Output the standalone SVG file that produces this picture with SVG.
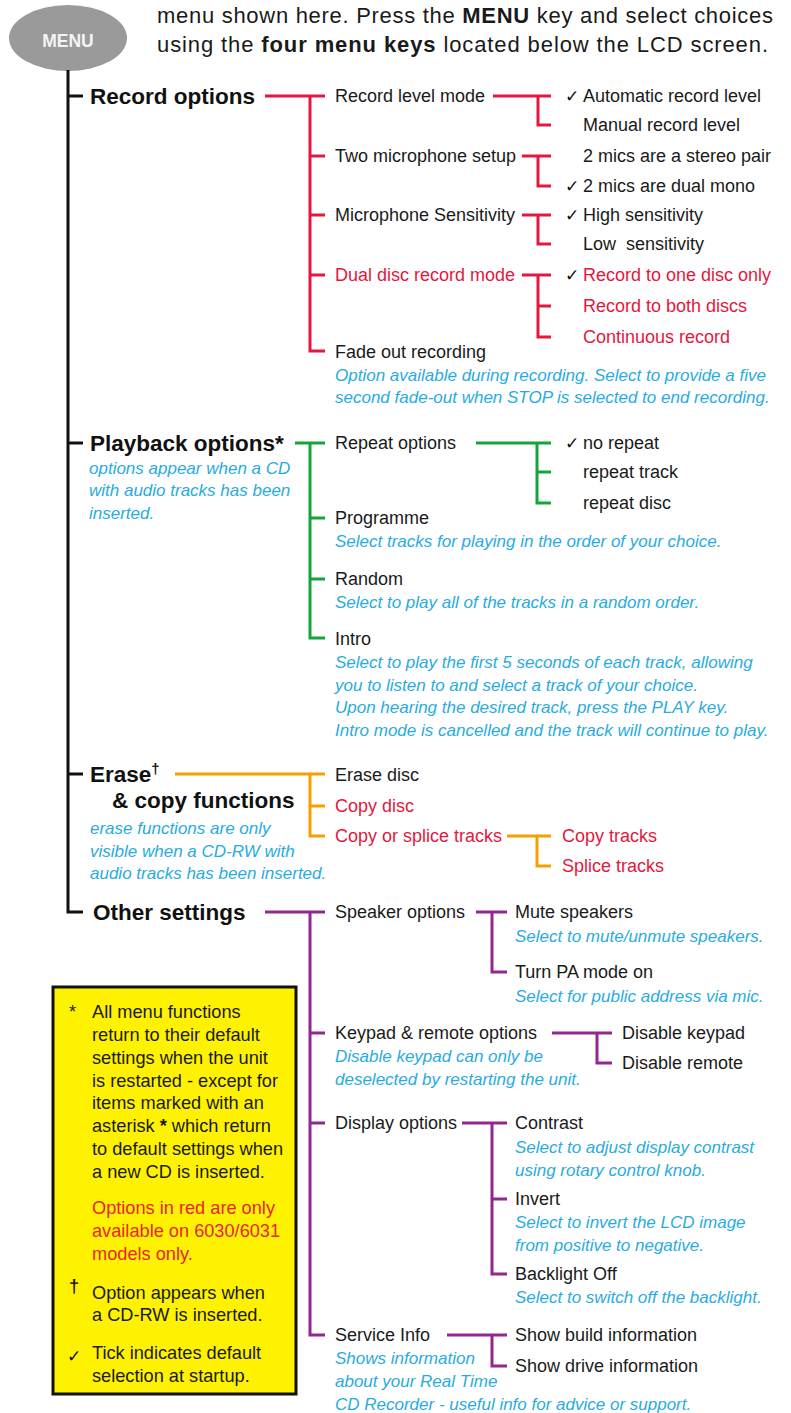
<svg xmlns="http://www.w3.org/2000/svg" width="791" height="1413" viewBox="0 0 791 1413">
<style>
text{font-family:"Liberation Sans",Arial,sans-serif;fill:#1a1a1a}
.t{font-size:18px}
.r{fill:#e4173e}
.i{font-size:17px;font-style:italic;fill:#29abe2}
.h{font-size:22.5px;font-weight:bold;fill:#111}
.ck{font-family:"DejaVu Sans",sans-serif;font-size:17px;fill:#111}
.hdr{font-size:22px}
.bx{font-size:18.2px}
.c{fill:none;stroke-width:3;stroke-linecap:butt;stroke-linejoin:miter}
.k{stroke:#111}
.cr{stroke:#e4173e}
.cg{stroke:#13a538}
.co{stroke:#f4a000}
.cp{stroke:#93278f}
</style>
<rect width="791" height="1413" fill="#fff"/>

<g id="header">
<text class="hdr" x="157" y="23" textLength="616">menu shown here. Press the <tspan font-weight="bold">MENU</tspan> key and select choices</text>
<text class="hdr" x="157" y="52" textLength="611">using the <tspan font-weight="bold">four menu keys</tspan> located below the LCD screen.</text>
</g>

<g id="menu">
<ellipse cx="68" cy="38" rx="59" ry="33" fill="#9a9a9a"/>
<text x="68" y="47" text-anchor="middle" font-size="17.5" font-weight="bold" style="fill:#f4f4f4">MENU</text>
</g>

<g id="connectors">
<path class="c k" d="M68,70 V912 H83 M68,96 H83 M68,443 H83 M68,774 H83"/>
<path class="c cr" d="M265,96 H325 M310,96 V351 H325 M310,156 H325 M310,215 H325 M310,275 H325"/>
<path class="c cr" d="M493,96 H551 M538,96 V125 H551"/>
<path class="c cr" d="M522,156 H551 M538,156 V186 H551"/>
<path class="c cr" d="M522,215 H551 M538,215 V244 H551"/>
<path class="c cr" d="M522,275 H551 M538,275 V337 H551 M538,306 H551"/>
<path class="c cg" d="M295,443 H325 M310,443 V638 H325 M310,518 H325 M310,579 H325"/>
<path class="c cg" d="M476,443 H551 M537,443 V503 H551 M537,472 H551"/>
<path class="c co" d="M175,774 H325 M310,774 V836 H325 M310,806 H325"/>
<path class="c co" d="M507,836 H551 M537,836 V866 H551"/>
<path class="c cp" d="M265,912 H325 M310,912 V1335 H325 M310,1033 H325 M310,1123 H325"/>
<path class="c cp" d="M476,912 H507 M492,912 V972 H507"/>
<path class="c cp" d="M552,1033 H612 M597,1033 V1063 H612"/>
<path class="c cp" d="M462,1123 H507 M492,1123 V1274 H507 M492,1199 H507"/>
<path class="c cp" d="M447,1335 H507 M492,1335 V1366 H507"/>
</g>

<g id="record-options">
<text class="h" x="90" y="104">Record options</text>
</g>
<g id="record-level-mode">
<text class="t" x="335" y="102">Record level mode</text>
<text class="ck" x="565" y="102">✓</text>
<text class="t" x="583" y="102">Automatic record level</text>
<text class="t" x="583" y="131">Manual record level</text>
</g>
<g id="two-mic-setup">
<text class="t" x="335" y="162">Two microphone setup</text>
<text class="t" x="583" y="162">2 mics are a stereo pair</text>
<text class="ck" x="565" y="192">✓</text>
<text class="t" x="583" y="192">2 mics are dual mono</text>
</g>
<g id="mic-sensitivity">
<text class="t" x="335" y="221">Microphone Sensitivity</text>
<text class="ck" x="565" y="221">✓</text>
<text class="t" x="583" y="221">High sensitivity</text>
<text class="t" x="583" y="250" xml:space="preserve">Low  sensitivity</text>
</g>
<g id="dual-disc">
<text class="t r" x="335" y="281">Dual disc record mode</text>
<text class="ck" x="565" y="281">✓</text>
<text class="t r" x="583" y="281">Record to one disc only</text>
<text class="t r" x="583" y="312">Record to both discs</text>
<text class="t r" x="583" y="343">Continuous record</text>
</g>
<g id="fade-out">
<text class="t" x="335" y="358">Fade out recording</text>
<text class="i" x="335" y="381">Option available during recording. Select to provide a five</text>
<text class="i" x="335" y="403">second fade-out when STOP is selected to end recording.</text>
</g>

<g id="playback-options">
<text class="h" x="90" y="451">Playback options*</text>
<text class="i" x="89" y="474">options appear when a CD</text>
<text class="i" x="89" y="496">with audio tracks has been</text>
<text class="i" x="89" y="519">inserted.</text>
</g>
<g id="repeat-options">
<text class="t" x="335" y="449">Repeat options</text>
<text class="ck" x="565" y="449">✓</text>
<text class="t" x="583" y="449">no repeat</text>
<text class="t" x="583" y="478">repeat track</text>
<text class="t" x="583" y="509">repeat disc</text>
</g>
<g id="programme">
<text class="t" x="335" y="524">Programme</text>
<text class="i" x="335" y="547">Select tracks for playing in the order of your choice.</text>
</g>
<g id="random">
<text class="t" x="335" y="585">Random</text>
<text class="i" x="335" y="608">Select to play all of the tracks in a random order.</text>
</g>
<g id="intro">
<text class="t" x="335" y="645">Intro</text>
<text class="i" x="335" y="668">Select to play the first 5 seconds of each track, allowing</text>
<text class="i" x="335" y="691">you to listen to and select a track of your choice.</text>
<text class="i" x="335" y="713">Upon hearing the desired track, press the PLAY key.</text>
<text class="i" x="335" y="736">Intro mode is cancelled and the track will continue to play.</text>
</g>

<g id="erase-copy">
<text class="h" x="90" y="782">Erase<tspan font-size="15" dy="-8">†</tspan></text>
<text class="h" x="112" y="808">&amp; copy functions</text>
<text class="i" x="90" y="834">erase functions are only</text>
<text class="i" x="90" y="857">visible when a CD-RW with</text>
<text class="i" x="90" y="879">audio tracks has been inserted.</text>
</g>
<g id="erase-disc"><text class="t" x="335" y="781">Erase disc</text></g>
<g id="copy-disc"><text class="t r" x="335" y="812">Copy disc</text></g>
<g id="copy-splice">
<text class="t r" x="335" y="842">Copy or splice tracks</text>
<text class="t r" x="562" y="842">Copy tracks</text>
<text class="t r" x="562" y="872">Splice tracks</text>
</g>

<g id="other-settings">
<text class="h" x="93" y="920">Other settings</text>
</g>
<g id="speaker-options">
<text class="t" x="335" y="918">Speaker options</text>
<text class="t" x="515" y="918">Mute speakers</text>
<text class="i" x="515" y="942">Select to mute/unmute speakers.</text>
<text class="t" x="515" y="978">Turn PA mode on</text>
<text class="i" x="515" y="1002">Select for public address via mic.</text>
</g>
<g id="keypad-remote">
<text class="t" x="335" y="1039">Keypad &amp; remote options</text>
<text class="i" x="335" y="1062">Disable keypad can only be</text>
<text class="i" x="335" y="1085">deselected by restarting the unit.</text>
<text class="t" x="622" y="1039">Disable keypad</text>
<text class="t" x="622" y="1069">Disable remote</text>
</g>
<g id="display-options">
<text class="t" x="335" y="1129">Display options</text>
<text class="t" x="515" y="1129">Contrast</text>
<text class="i" x="515" y="1153">Select to adjust display contrast</text>
<text class="i" x="515" y="1176">using rotary control knob.</text>
<text class="t" x="515" y="1205">Invert</text>
<text class="i" x="515" y="1228">Select to invert the LCD image</text>
<text class="i" x="515" y="1251">from positive to negative.</text>
<text class="t" x="515" y="1280">Backlight Off</text>
<text class="i" x="515" y="1303">Select to switch off the backlight.</text>
</g>
<g id="service-info">
<text class="t" x="335" y="1341">Service Info</text>
<text class="i" x="335" y="1364">Shows information</text>
<text class="i" x="335" y="1387">about your Real Time</text>
<text class="i" x="335" y="1410">CD Recorder - useful info for advice or support.</text>
<text class="t" x="515" y="1341">Show build information</text>
<text class="t" x="515" y="1372">Show drive information</text>
</g>

<g id="legend">
<rect x="53" y="987" width="243" height="407" fill="#fff200" stroke="#111" stroke-width="3"/>
<text class="bx" x="69" y="1018">*</text>
<text class="bx" x="92" y="1018">All menu functions</text>
<text class="bx" x="92" y="1041">return to their default</text>
<text class="bx" x="92" y="1064">settings when the unit</text>
<text class="bx" x="92" y="1087">is restarted - except for</text>
<text class="bx" x="92" y="1109">items marked with an</text>
<text class="bx" x="92" y="1132">asterisk <tspan font-weight="bold">*</tspan> which return</text>
<text class="bx" x="92" y="1155">to default settings when</text>
<text class="bx" x="92" y="1178">a new CD is inserted.</text>
<text class="bx" x="92" y="1214" style="fill:#e8262d">Options in red are only</text>
<text class="bx" x="92" y="1237" style="fill:#e8262d">available on 6030/6031</text>
<text class="bx" x="92" y="1260" style="fill:#e8262d">models only.</text>
<text class="bx" x="69" y="1292" font-weight="bold">†</text>
<text class="bx" x="92" y="1299">Option appears when</text>
<text class="bx" x="92" y="1321">a CD-RW is inserted.</text>
<text class="ck" x="67" y="1362">✓</text>
<text class="bx" x="92" y="1359">Tick indicates default</text>
<text class="bx" x="92" y="1382">selection at startup.</text>
</g>
</svg>
